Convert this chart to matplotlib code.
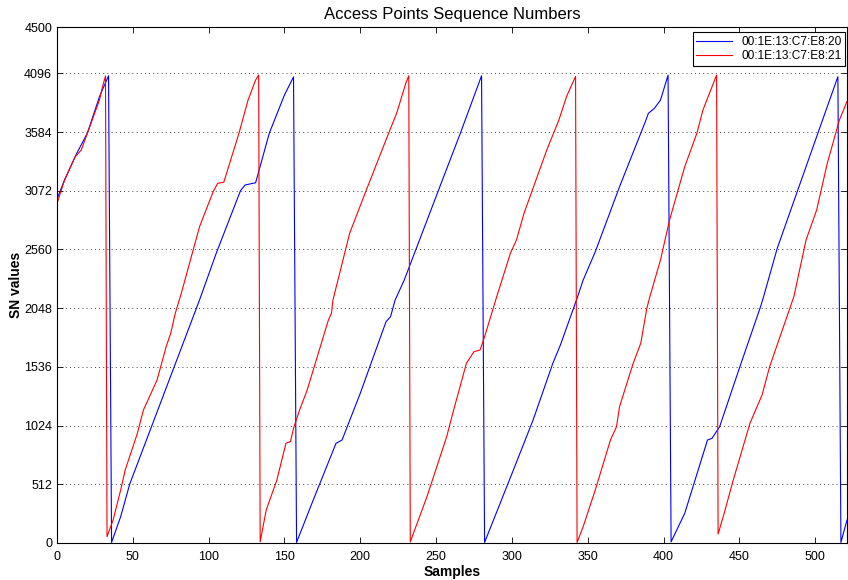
import matplotlib
matplotlib.use("Agg")
import matplotlib.pyplot as plt

plt.rcParams['font.family'] = ['Liberation Sans', 'DejaVu Sans']

# Sequence numbers (sample index, SN value)
muestras_ap1 = [0, 5, 13, 20, 28, 34, 36, 42, 48, 94, 105, 121, 124, 131, 140, 150, 156,
                158, 169, 184, 188, 200, 217, 220, 223, 229, 255, 266, 280,
                282, 301, 314, 327, 332, 343, 347, 355, 371, 388, 390, 394, 398, 403,
                405, 414, 429, 432, 437, 450, 464, 466, 475, 494, 515,
                517, 521]
sn_ap1 = [3000, 3166, 3398, 3573, 3892, 4075, 5, 230, 515, 2119, 2526, 3072, 3122, 3142, 3573, 3907, 4065,
          5, 375, 869, 898, 1305, 1930, 1974, 2119, 2293, 3194, 3573, 4075,
          5, 637, 1073, 1567, 1727, 2134, 2293, 2540, 3107, 3674, 3747, 3791, 3863, 4080,
          10, 259, 898, 913, 1014, 1523, 2061, 2148, 2570, 3282, 4067,
          5, 200]

muestras_ap2 = [0, 5, 12, 16, 28, 30, 32, 33, 37, 42, 45, 53, 57, 66, 72, 75, 78, 82, 94, 103,
                106, 110, 120, 126, 131, 133,
                134, 138, 145, 151, 154, 156, 160, 165, 169, 171, 179, 181, 182, 193, 204,
                220, 224, 230, 232,
                233, 244, 257, 261, 267, 270, 275, 279, 282, 288, 290, 299, 303, 308, 323,
                331, 336, 342,
                343, 347, 355, 365, 369, 371, 380, 385, 389, 391, 398, 404, 414, 422, 426, 435,
                436, 440, 446, 457, 465, 470, 486, 494, 501, 508, 516, 521]
sn_ap2 = [2960, 3166, 3369, 3427, 3863, 3979, 4073, 55, 200, 462, 637, 956, 1160, 1421, 1712, 1829, 2003, 2178, 2758, 3064,
          3137, 3146, 3573, 3863, 4038, 4081,
          10, 288, 549, 869, 885, 1000, 1160, 1334, 1509, 1596, 1945, 2003, 2119, 2701, 3078,
          3617, 3747, 4009, 4075,
          10, 404, 927, 1131, 1421, 1567, 1668, 1683, 1799, 2061, 2148, 2526, 2642, 2875, 3427,
          3689, 3892, 4070,
          5, 142, 462, 898, 1014, 1189, 1567, 1742, 2047, 2148, 2468, 2817, 3282, 3573, 3776, 4081,
          78, 259, 549, 1044, 1291, 1538, 2150, 2642, 2904, 3311, 3689, 3850]

etiquetas = ["00:1E:13:C7:E8:20", "00:1E:13:C7:E8:21"]
yticks = [0, 512, 1024, 1536, 2048, 2560, 3072, 3584, 4096, 4500]

fig = plt.figure(figsize=(8.48, 5.8), dpi=100)
ax = fig.add_axes([0.0672, 0.0638, 0.9316, 0.8896])

ax.plot(muestras_ap1, sn_ap1, color='blue', linewidth=0.8, label=etiquetas[0])
ax.plot(muestras_ap2, sn_ap2, color='red', linewidth=0.8, label=etiquetas[1])

ax.set_xlim(0, 521)
ax.set_ylim(0, 4500)
ax.set_xticks(range(0, 501, 50))
ax.set_yticks(yticks)
ax.tick_params(direction='in', top=True, right=True, labelsize=9, length=4, width=0.6)
ax.tick_params(axis='x', pad=6)
ax.yaxis.grid(True, linestyle=(0, (1, 4)), color='black', linewidth=0.6)
for s in ax.spines.values():
    s.set_linewidth(0.8)

ax.set_title("Access Points Sequence Numbers", fontsize=12, pad=6)
ax.set_xlabel("Samples", fontsize=10, fontweight='bold', labelpad=1)
ax.set_ylabel("SN values", fontsize=10, fontweight='bold', labelpad=1)

leg = ax.legend(loc='upper right', bbox_to_anchor=(0.998, 0.99), fontsize=8.6,
                fancybox=False, framealpha=1, edgecolor='black', borderpad=0.3,
                labelspacing=0.2, handlelength=3, borderaxespad=0)
leg.get_frame().set_linewidth(0.8)

plt.savefig("out.png", dpi=100)
